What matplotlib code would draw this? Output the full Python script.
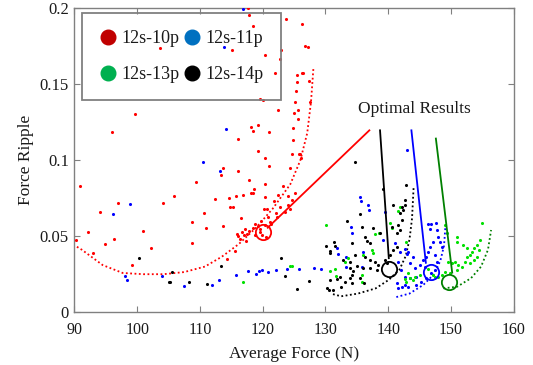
import matplotlib
matplotlib.use("Agg")
import matplotlib.pyplot as plt
from matplotlib.lines import Line2D

plt.rcParams['font.family'] = ['Liberation Serif', 'DejaVu Serif']

# ---------------- data ----------------
red_x = [90.2, 90.9, 92.2, 92.9, 94.1, 94.8, 96.0, 96.3, 96.9, 99.1, 99.7, 100.9, 102.2, 103.7, 104.1,
         105.9, 108.7, 108.7, 109.3, 110.6, 110.9, 112.4, 113.6, 113.4, 113.7, 114.3, 114.6, 114.8, 115.1,
         115.3, 115.6, 115.8, 116.1, 116.1, 116.1, 116.5, 116.8, 117.2, 117.6, 117.8, 117.8, 118.1, 118.1,
         118.4, 118.5, 118.6, 118.4, 118.8, 119.2, 119.3, 119.5, 119.6, 119.7, 120.1, 120.3, 120.3, 120.3,
         120.2, 120.4, 120.7, 120.9, 121.0, 121.0, 121.4, 121.8, 122.0, 122.1, 122.5, 122.5, 122.7, 122.8,
         123.0, 123.3, 123.7, 124.1, 124.3, 124.4, 124.6, 124.8, 124.9, 125.0, 125.2, 125.3, 125.4, 125.5,
         125.6, 125.7, 125.8, 126.0, 126.1, 126.3, 126.3, 126.5, 126.7, 127.2, 127.5, 127.4,
         115.9, 116.4, 116.7, 117.0, 117.3, 117.5, 117.9, 118.5, 118.8, 119.2, 119.6, 120.6, 121.2,
         119.9, 120.3, 122.3, 123.5, 124.0, 124.7, 125.1]
red_y = [0.0475, 0.083, 0.0526, 0.039, 0.066, 0.0446, 0.118, 0.048, 0.0715, 0.031, 0.130, 0.0535, 0.0425,
         0.1736, 0.072, 0.0764, 0.059, 0.0455, 0.0855, 0.065, 0.055, 0.0746, 0.095, 0.090, 0.0567, 0.035,
         0.075, 0.069, 0.172, 0.069, 0.040, 0.0766, 0.093, 0.114, 0.050, 0.0616, 0.0768, 0.0544, 0.200,
         0.195, 0.087, 0.1216, 0.078, 0.119, 0.078, 0.0806, 0.188, 0.058, 0.106, 0.123, 0.140, 0.0526,
         0.060, 0.1395, 0.101, 0.084, 0.169, 0.068, 0.0755, 0.068, 0.0627, 0.118, 0.096, 0.058, 0.0728,
         0.157, 0.065, 0.1326, 0.077, 0.166, 0.069, 0.172, 0.083, 0.1926, 0.076, 0.068, 0.095, 0.104,
         0.113, 0.121, 0.131, 0.138, 0.145, 0.151, 0.156, 0.127, 0.133, 0.1037, 0.104, 0.101, 0.189,
         0.157, 0.157, 0.175, 0.174, 0.138, 0.152,
         0.0515, 0.048, 0.0525, 0.0505, 0.047, 0.0515, 0.0535, 0.055, 0.0505, 0.0565, 0.0545, 0.0495, 0.059,
         0.0505, 0.0575, 0.0625, 0.0655, 0.0705, 0.0735, 0.0785]

blue_x = [96.1, 98.8, 98.0, 98.4, 104.0, 107.5, 110.5, 112.0, 113.1, 113.2, 113.8, 114.1, 115.8, 116.9,
          117.6, 119.0, 119.4, 119.9, 120.8, 122.1, 123.8, 125.8, 128.2, 129.3, 132.0, 134.2, 135.6, 137.0,
          133.2, 135.5, 136.8, 134.0, 139.5, 131.8, 133.3, 136.0, 139.2, 141.1, 141.9, 142.7, 143.0, 143.5,
          142.1, 141.6, 144.3, 145.6, 146.4, 146.9, 147.6, 146.7, 147.7, 148.0, 148.3, 148.5, 147.2, 146.7,
          146.4, 146.1, 147.4, 147.7, 145.9, 144.5, 143.5, 142.7, 141.4, 141.6, 142.2, 142.7, 143.2, 144.5,
          145.3, 146.1, 146.9, 147.5, 145.1, 144.0, 143.2, 135.8, 143.0]
blue_y = [0.0643, 0.071, 0.024, 0.0213, 0.0235, 0.0172, 0.0985, 0.018, 0.0213, 0.093, 0.174, 0.120,
          0.0246, 0.1987, 0.027, 0.025, 0.027, 0.0275, 0.0267, 0.028, 0.0284, 0.0287, 0.029, 0.0287, 0.038,
          0.052, 0.0728, 0.067, 0.030, 0.0755, 0.0704, 0.0558, 0.066, 0.042, 0.0361, 0.0398, 0.0474, 0.0453,
          0.0398, 0.0415, 0.0382, 0.0321, 0.0278, 0.0332, 0.0289, 0.0343, 0.0577, 0.058, 0.0584, 0.0545,
          0.054, 0.0496, 0.0463, 0.043, 0.0463, 0.043, 0.0398, 0.0365, 0.0376, 0.0332, 0.0299, 0.0234,
          0.0223, 0.0234, 0.019, 0.0157, 0.0168, 0.0179, 0.0164, 0.0179, 0.0201, 0.0223, 0.0256, 0.0278,
          0.031, 0.0365, 0.0398, 0.0299, 0.1068]

black_x = [100.3, 105.0, 105.3, 105.6, 108.2, 111.1, 113.3, 122.9, 123.6, 125.5, 127.4, 130.1, 130.8, 131.6,
           130.3, 130.6, 131.2, 134.7, 139.1, 133.4, 135.5, 135.8, 137.6, 131.3, 134.2, 136.3, 136.6, 137.1,
           138.7, 140.6, 141.4, 141.9, 141.6, 142.2, 141.9, 142.4, 142.7, 142.2, 140.8, 142.7, 142.8, 130.7,
           132.8, 133.9, 134.7, 136.3, 137.1, 137.9, 135.0, 136.0, 137.1, 138.2, 134.2, 133.9, 131.8, 130.7,
           132.3, 133.9, 138.4, 139.5, 140.3, 140.8, 141.4, 139.8, 132.5, 133.1, 134.2, 134.4, 135.5, 136.1]
black_y = [0.0354, 0.0197, 0.0197, 0.0264, 0.0199, 0.0186, 0.0307, 0.0358, 0.024, 0.015, 0.0206, 0.0432,
           0.040, 0.0432, 0.016, 0.0145, 0.0145, 0.0985, 0.081, 0.0601, 0.0643, 0.0558, 0.0551, 0.0463,
           0.0453, 0.0492, 0.047, 0.0453, 0.0518, 0.0558, 0.0518, 0.054, 0.0573, 0.0606, 0.065, 0.0671,
           0.0704, 0.0693, 0.0704, 0.0737, 0.0835, 0.0387, 0.0343, 0.0332, 0.0376, 0.0365, 0.0343, 0.0332,
           0.0304, 0.0289, 0.0289, 0.0278, 0.0245, 0.0223, 0.0217, 0.0212, 0.0234, 0.0289, 0.031, 0.0343,
           0.0376, 0.0409, 0.043, 0.0321, 0.0168, 0.0202, 0.019, 0.0269, 0.0224, 0.019]

green_x = [116.9, 124.4, 124.6, 130.1, 130.8, 131.7, 135.9, 137.9, 138.6, 140.6, 141.9, 131.5, 133.6, 133.1,
           136.0, 137.4, 137.6, 135.8, 140.3, 141.6, 142.9, 143.2, 142.7, 143.5, 144.3, 145.1, 146.4, 147.2,
           148.0, 149.1, 149.3, 150.9, 149.6, 150.1, 150.7, 151.2, 151.7, 152.2, 152.5, 153.0, 153.3, 153.6,
           154.1, 154.6, 154.9, 154.4, 153.0, 152.0, 152.5, 153.6, 154.1, 150.9, 149.8, 149.1, 148.5, 147.5,
           144.0, 142.9, 151.0]
green_y = [0.0199, 0.0302, 0.0307, 0.057, 0.0269, 0.024, 0.0199, 0.0515, 0.0522, 0.0553, 0.0694, 0.0282,
           0.0354, 0.0332, 0.0376, 0.0409, 0.0391, 0.0245, 0.0584, 0.0667, 0.0463, 0.026, 0.0217, 0.0223,
           0.0234, 0.0245, 0.0282, 0.0245, 0.0234, 0.0573, 0.0518, 0.0496, 0.0332, 0.0321, 0.0332, 0.031,
           0.0295, 0.0332, 0.0365, 0.0376, 0.0398, 0.042, 0.0442, 0.0474, 0.0588, 0.0409, 0.0321, 0.0442,
           0.042, 0.0343, 0.0361, 0.0278, 0.0256, 0.0267, 0.0245, 0.0234, 0.0212, 0.0201, 0.0464]

# Pareto-front (dotted) curves
red_front_x = [90.4, 91.2, 94.5, 97.7, 101.0, 104.2, 107.5, 110.8, 113.5, 116.2, 118.9, 121.6, 124.4, 126.0, 127.1, 127.7, 128.1]
red_front_y = [0.043, 0.041, 0.031, 0.0258, 0.025, 0.025, 0.0264, 0.030, 0.0365, 0.0448, 0.0553, 0.068, 0.084, 0.0997, 0.1176, 0.138, 0.161]
black_front_x = [131.2, 132.5, 135.2, 138.0, 140.1, 141.8, 142.8, 143.4, 143.8, 144.05]
black_front_y = [0.0119, 0.0105, 0.0123, 0.0157, 0.0213, 0.028, 0.037, 0.048, 0.0616, 0.082]
blue_front_x = [141.3, 143.4, 145.6, 147.2, 148.3, 148.9, 149.1]
blue_front_y = [0.0100, 0.0123, 0.018, 0.0246, 0.0336, 0.0437, 0.0553]
green_front_x = [148.8, 151.0, 153.2, 154.8, 155.9, 156.4]
green_front_y = [0.0157, 0.0168, 0.0224, 0.030, 0.041, 0.054]

# optimal points and pointer line ends
opt_x = [120.1, 140.1, 146.8, 149.7]
opt_y = [0.053, 0.0285, 0.0265, 0.020]
ptr_start_x = [120.8, 140.1, 146.0, 150.2]
ptr_start_y = [0.0555, 0.0355, 0.0325, 0.026]
ptr_end_x = [137.0, 138.7, 143.7, 147.6]
ptr_end_y = [0.1194, 0.1194, 0.1194, 0.114]

labels = ['12s-10p', '12s-11p', '12s-13p', '12s-14p']
legend_colors = ['#c00000', '#0070c0', '#00b050', '#000000']

# ---------------- figure ----------------
fig = plt.figure(figsize=(5.33, 3.65), dpi=100)
ax = fig.add_axes([74.4/533, 1-312.3/365, 439.3/533, 304.8/365])

pt = 5
ax.scatter(red_x, red_y, s=pt, c='#ff0000', linewidths=0, zorder=3)
ax.scatter(blue_x, blue_y, s=pt, c='#0000ff', linewidths=0, zorder=3)
ax.scatter(green_x, green_y, s=pt, c='#00e000', linewidths=0, zorder=3)
ax.scatter(black_x, black_y, s=pt, c='#000000', linewidths=0, zorder=3)

dot = (0, (1, 1.4))
ax.plot(red_front_x, red_front_y, color='#ff0000', lw=1.3, ls=dot, zorder=2)
ax.plot(black_front_x, black_front_y, color='#000000', lw=1.3, ls=dot, zorder=2)
ax.plot(blue_front_x, blue_front_y, color='#0000ff', lw=1.3, ls=dot, zorder=2)
ax.plot(green_front_x, green_front_y, color='#008000', lw=1.3, ls=dot, zorder=2)

opt_colors = ['#ff0000', '#000000', '#0000ff', '#008000']
for i in range(4):
    ax.plot([opt_x[i]], [opt_y[i]], marker='o', ms=11, mfc='none', mec=opt_colors[i], mew=1.3, zorder=4)
    ax.plot([ptr_start_x[i], ptr_end_x[i]], [ptr_start_y[i], ptr_end_y[i]], color=opt_colors[i], lw=1.3, zorder=4)

ax.text(144.1, 0.1333, 'Optimal Results', ha='center', va='center', fontsize=12.5, color='#1a1a1a')

ax.set_xlim(90, 160)
ax.set_ylim(0, 0.2)
ax.set_xticks([90, 100, 110, 120, 130, 140, 150, 160])
ax.set_yticks([0, 0.05, 0.1, 0.15, 0.2])
ax.set_yticklabels(['0', '0.05', '0.1', '0.15', '0.2'])
ax.tick_params(direction='in', length=4, width=0.8, color='#808080', top=True, right=True,
               labelcolor='#1a1a1a')
ax.tick_params(axis='x', labelsize=11.5, pad=7)
ax.tick_params(axis='y', labelsize=12, pad=4)
for s in ax.spines.values():
    s.set_color('#808080')
    s.set_linewidth(1.0)

ax.set_xlabel('Average Force (N)', fontsize=12.5, color='#1a1a1a', labelpad=6)
ax.set_ylabel('Force Ripple', fontsize=12.5, color='#1a1a1a', labelpad=4)

# ncol=2 fills column-wise: order so that row1 = 10p, 11p and row2 = 13p, 14p
order = [0, 2, 1, 3]
handles = [Line2D([], [], ls='none', marker='o', ms=10.5, mfc=legend_colors[i], mec=legend_colors[i])
           for i in order]
leg = ax.legend(handles, [labels[i] for i in order], ncol=2, loc='upper left',
                bbox_to_anchor=(0.017, 0.982),
                borderaxespad=0, fontsize=13, frameon=True, fancybox=False,
                handletextpad=0.25, columnspacing=0.2, labelspacing=1.05, handlelength=1.0,
                borderpad=0.95, framealpha=1.0)
leg.get_frame().set_facecolor('none')
leg.get_frame().set_edgecolor('#808080')
leg.get_frame().set_linewidth(1.3)
for t in leg.get_texts():
    t.set_color('#1a1a1a')

fig.savefig('out.png', dpi=100)
